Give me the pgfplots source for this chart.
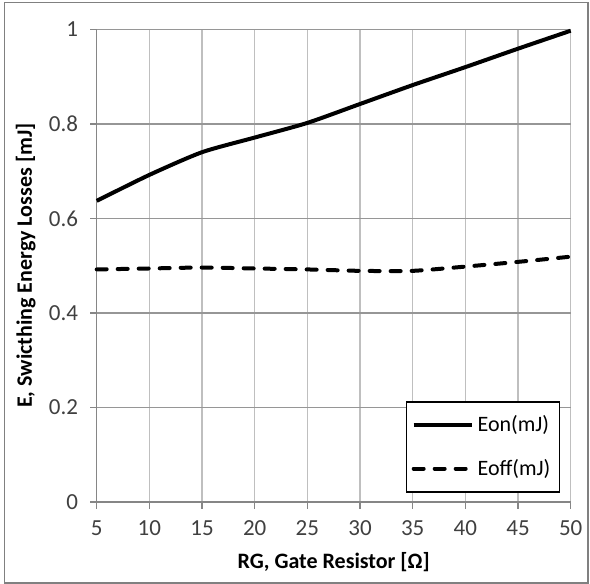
\documentclass[border=0pt]{standalone}
\usepackage{pgfplots}
\pgfplotsset{compat=1.18}
\usepackage{fontspec}
\setmainfont{Carlito}
\definecolor{gridv}{RGB}{191,191,191}
\definecolor{gridh}{RGB}{150,150,150}
\definecolor{axcol}{RGB}{134,134,134}
\definecolor{txt}{RGB}{64,64,64}
\begin{document}
\begin{tikzpicture}
\begin{axis}[
  at={(0,0)}, anchor=south west,
  scale only axis,
  width=237pt, height=236.35pt,
  xmin=5, xmax=50, ymin=0, ymax=1,
  xtick={5,10,...,50},
  ytick={0,0.2,0.4,0.6,0.8,1},
  yticklabels={0,0.2,0.4,0.6,0.8,1},
  axis lines=left,
  axis line style={-, color=axcol, line width=0.75pt},
  tick align=outside,
  major tick length=3.3pt,
  tick style={color=axcol, line width=0.75pt},
  xmajorgrids, ymajorgrids,
  x grid style={color=gridv, line width=0.75pt},
  y grid style={color=gridh, line width=0.75pt},
  /pgf/number format/assume math mode=true,
  ticklabel style={font=\fontsize{11.5}{13}\selectfont, text=txt},
  xticklabel style={yshift=-2.5pt},
  yticklabel style={xshift=-2.5pt},
  xlabel={\textbf{RG, Gate Resistor [Ω]}},
  ylabel={\textbf{E, Swicthing Energy Losses [mJ]}},
  label style={font=\fontsize{11}{13}\selectfont, text=black},
  xlabel style={at={(0.5,-0.127)}, anchor=center},
  ylabel style={at={(-0.15,0.5)}, anchor=center, rotate=0},
  legend cell align=left,
  legend image code/.code={\draw[#1] (0pt,0pt) -- (29pt,0pt);},
  legend style={at={(0.9774,0.0197)}, anchor=south east,
    draw=black, line width=0.6pt, fill=white,
    font=\fontsize{11}{13}\selectfont,
    inner xsep=2.5pt, inner ysep=5pt, row sep=8pt},
  clip=false,
]
\addplot[black, line width=2pt, smooth, tension=0.4] coordinates {
  (5,0.637) (10,0.692) (15,0.740) (20,0.771) (25,0.802) (30,0.842) (35,0.882) (40,0.920) (45,0.959) (50,0.997)
};
\addlegendentry{Eon(mJ)}
\addplot[black, line width=2pt, smooth, tension=0.4, line cap=round, dash pattern=on 5pt off 5.5pt] coordinates {
  (5,0.492) (10,0.494) (15,0.496) (20,0.494) (25,0.492) (30,0.489) (35,0.489) (40,0.498) (45,0.508) (50,0.519)
};
\addlegendentry{Eoff(mJ)}
\end{axis}
\draw[color=gray, line width=0.6pt] (-46pt,-40.5pt) rectangle (245.65pt,249.65pt);
\path[use as bounding box] (-48.35pt,-41pt) rectangle (246.65pt,251pt);
\end{tikzpicture}
\end{document}
